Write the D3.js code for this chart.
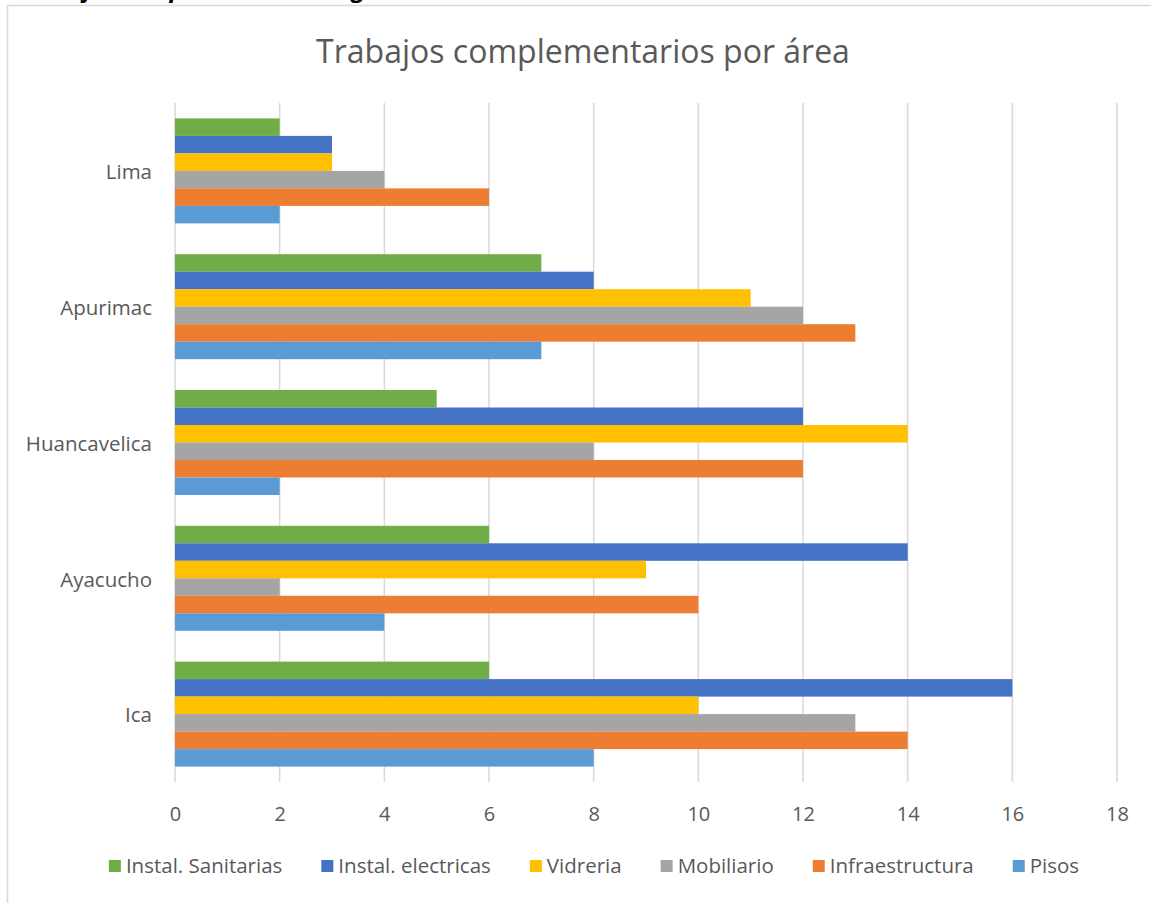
<!DOCTYPE html>
<html>
<head>
<meta charset="utf-8">
<script src="https://cdn.jsdelivr.net/npm/d3@7"></script>
<style>
  body { margin: 0; background: #fff; }
  svg text { font-family: "Open Sans", sans-serif; }
</style>
</head>
<body>
<div id="chart"></div>
<script>
// Data
const areas = ["Lima", "Apurimac", "Huancavelica", "Ayacucho", "Ica"];
const seriesNames = ["Instal. Sanitarias", "Instal. electricas", "Vidreria", "Mobiliario", "Infraestructura", "Pisos"];
const sanitarias = [2, 7, 5, 6, 6];
const electricas = [3, 8, 12, 14, 16];
const vidreria = [3, 11, 14, 9, 10];
const mobiliario = [4, 12, 8, 2, 13];
const infraestructura = [6, 13, 12, 10, 14];
const pisos = [2, 7, 2, 4, 8];
const xTicks = [0, 2, 4, 6, 8, 10, 12, 14, 16, 18];

const seriesValues = [sanitarias, electricas, vidreria, mobiliario, infraestructura, pisos];
const colors = ["#70AD47", "#4472C4", "#FFC000", "#A5A5A5", "#ED7D31", "#5B9BD5"];

const width = 1151;
const height = 903;
const plot = { left: 175, right: 1117, top: 103, bottom: 782 };

const svg = d3.select("#chart")
  .append("svg")
  .attr("width", width)
  .attr("height", height);

// Caption above the chart frame, cut by the top edge as in the source
svg.append("text")
  .attr("x", 18)
  .attr("y", -3)
  .style("font-size", "24px")
  .style("font-style", "italic")
  .style("font-weight", "bold")
  .style("fill", "#000")
  .text("Trabajos complementarios según área");

// Chart frame
svg.append("rect")
  .attr("x", 7.5)
  .attr("y", 5.5)
  .attr("width", width + 20)
  .attr("height", height + 20)
  .attr("fill", "#fff")
  .attr("stroke", "#d9d9d9")
  .attr("stroke-width", 1.5);

// Title
svg.append("text")
  .attr("x", 583)
  .attr("y", 63)
  .attr("text-anchor", "middle")
  .style("font-size", "32px")
  .style("fill", "#595959")
  .text("Trabajos complementarios por área");

// Scales
const x = d3.scaleLinear()
  .domain([0, 18])
  .range([plot.left, plot.right]);

const y = d3.scaleBand()
  .domain(areas)
  .range([plot.top, plot.bottom]);

const inner = d3.scaleBand()
  .domain(seriesNames)
  .range([0, y.bandwidth()])
  .paddingOuter(0.88)
  .paddingInner(0);

// Gridlines
svg.append("g")
  .selectAll("line")
  .data(xTicks)
  .join("line")
  .attr("x1", d => x(d))
  .attr("x2", d => x(d))
  .attr("y1", plot.top)
  .attr("y2", plot.bottom)
  .attr("stroke", "#d9d9d9")
  .attr("stroke-width", 1.5);

// Bars
const groups = svg.append("g")
  .selectAll("g")
  .data(areas)
  .join("g")
  .attr("transform", d => `translate(0,${y(d)})`);

groups.selectAll("rect")
  .data((area, i) => seriesNames.map((s, j) => ({ s, j, v: seriesValues[j][i] })))
  .join("rect")
  .attr("x", x(0))
  .attr("y", d => inner(d.s))
  .attr("width", d => x(d.v) - x(0))
  .attr("height", inner.bandwidth())
  .attr("fill", d => colors[d.j]);

// X axis labels
const xAxis = svg.append("g")
  .attr("transform", `translate(0,${plot.bottom})`)
  .call(d3.axisBottom(x).tickValues(xTicks).tickSize(0).tickPadding(25));
xAxis.select(".domain").remove();
xAxis.selectAll("text")
  .style("font-size", "20px")
  .style("fill", "#595959")
  .style("font-family", "'Open Sans', sans-serif");

// Y axis labels
const yAxis = svg.append("g")
  .attr("transform", `translate(${plot.left},0)`)
  .call(d3.axisLeft(y).tickSize(0).tickPadding(23));
yAxis.select(".domain").remove();
yAxis.selectAll("text")
  .attr("dy", "0.4em")
  .style("font-size", "20.5px")
  .style("fill", "#595959")
  .style("font-family", "'Open Sans', sans-serif");

// Legend
const legend = svg.append("g");
const items = legend.selectAll("g")
  .data(seriesNames)
  .join("g");
items.append("rect")
  .attr("width", 12)
  .attr("height", 12)
  .attr("y", -6)
  .attr("fill", (d, i) => colors[i]);
items.append("text")
  .attr("x", 17)
  .attr("dy", "0.36em")
  .style("font-size", "20.5px")
  .style("fill", "#595959")
  .text(d => d);

let cursor = 0;
const gap = 39;
items.each(function () {
  const w = 17 + d3.select(this).select("text").node().getComputedTextLength();
  d3.select(this).attr("transform", `translate(${cursor},866)`);
  cursor += w + gap;
});
const totalW = cursor - gap;
legend.attr("transform", `translate(${(108 + 1080) / 2 - totalW / 2},0)`);
</script>
</body>
</html>
